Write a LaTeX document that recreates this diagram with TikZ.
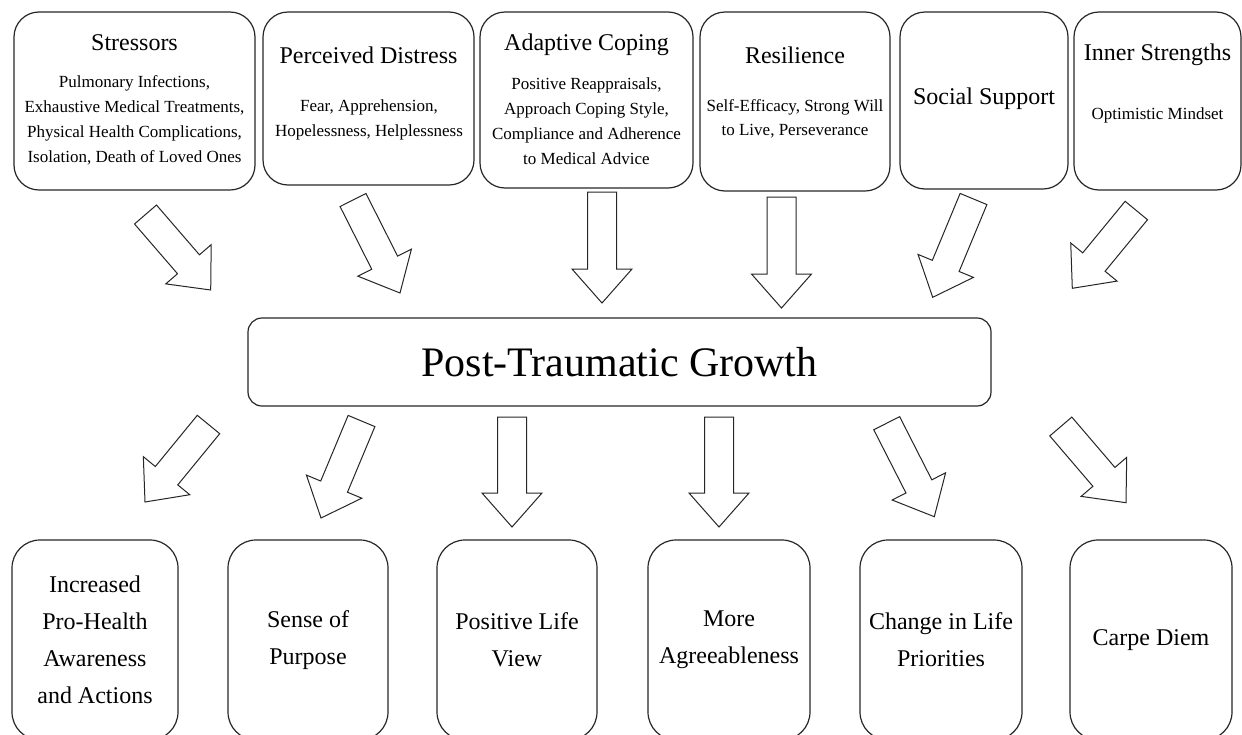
\documentclass[tikz,border=0pt]{standalone}
\usepackage{fontspec}
\setmainfont{Liberation Serif}
\usetikzlibrary{calc}
\tikzset{
  topbox/.style={draw=black!85, line width=1.2pt, rounded corners=25pt, inner sep=0pt},
  midbox/.style={draw=black!85, line width=1.2pt, rounded corners=14pt, inner sep=0pt},
  botbox/.style={draw=black!85, line width=1.2pt, rounded corners=28pt, inner sep=0pt, align=center, font=\fontsize{24}{37}\selectfont},
  ttl/.style={font=\fontsize{24}{28}\selectfont, inner sep=0pt},
  subtxt/.style={font=\fontsize{17}{25}\selectfont, align=center, inner sep=0pt},
  blkarrow/.style={draw=black!85, fill=white, line width=1pt, line join=miter},
}
\newcommand\blockarrow[2]{%
  \coordinate (#1-hb) at ($(#2)!34pt!(#1)$);
  \draw[blkarrow] ($(#1)!14.5pt!90:(#2)$) -- ($(#1-hb)!14.5pt!90:(#2)$) -- ($(#1-hb)!30pt!90:(#2)$) -- (#2)
    -- ($(#1-hb)!30pt!-90:(#2)$) -- ($(#1-hb)!14.5pt!-90:(#2)$) -- ($(#1)!14.5pt!-90:(#2)$) -- cycle;}
\begin{document}
\begin{tikzpicture}[x=1pt,y=-1pt]
\useasboundingbox (0,0) rectangle (1242,734);
\begin{scope}
\clip (0,0) rectangle (1242,734);
% top boxes
\node[topbox, minimum width=241pt, minimum height=178pt] (s1) at (134.5,101) {};
\node[topbox, minimum width=211pt, minimum height=173pt] (s2) at (368.5,98.5) {};
\node[topbox, minimum width=213pt, minimum height=176pt] (s3) at (586.5,100) {};
\node[topbox, minimum width=190pt, minimum height=179pt] (s4) at (795,101.5) {};
\node[topbox, minimum width=168pt, minimum height=177pt] (s5) at (984,100.5) {};
\node[topbox, minimum width=167pt, minimum height=178pt] (s6) at (1157.5,101) {};
% top texts
\node[ttl] (s1t) at (134.5,43) {Stressors};
\node[subtxt] (s1s) at (134.5,120) {Pulmonary Infections,\\Exhaustive Medical Treatments,\\Physical Health Complications,\\Isolation, Death of Loved Ones};
\node[ttl] (s2t) at (368.5,55) {Perceived Distress};
\node[subtxt] (s2s) at (369,120) {Fear, Apprehension,\\Hopelessness, Helplessness};
\node[ttl] (s3t) at (586.5,45) {Adaptive Coping};
\node[subtxt] (s3s) at (586.5,121) {Positive Reappraisals,\\Approach Coping Style,\\Compliance and Adherence\\to Medical Advice};
\node[ttl] (s4t) at (795,55) {Resilience};
\node[subtxt, font=\fontsize{17}{24}\selectfont] (s4s) at (795,119) {Self-Efficacy, Strong Will\\to Live, Perseverance};
\node[ttl] (s5t) at (984,99) {Social Support};
\node[ttl] (s6t) at (1157.5,55) {Inner Strengths};
\node[subtxt] (s6s) at (1157.5,115) {Optimistic Mindset};
% central box
\node[midbox, minimum width=743pt, minimum height=88pt, font=\fontsize{42}{48}\selectfont] (ptg) at (619.5,362) {Post-Traumatic Growth};
% bottom boxes
\node[botbox, minimum width=166pt, minimum height=200pt] (o1) at (95,640) {Increased\\Pro-Health\\Awareness\\and Actions};
\node[botbox, minimum width=160pt, minimum height=200pt] (o2) at (308,640) {Sense of\\Purpose};
\node[botbox, minimum width=160pt, minimum height=200pt] (o3) at (517,640) {Positive Life\\View};
\node[botbox, minimum width=162pt, minimum height=200pt] (o4) at (729,640) {More\\Agreeableness};
\node[botbox, minimum width=162pt, minimum height=200pt] (o5) at (941,640) {Change in Life\\Priorities};
\node[botbox, minimum width=162pt, minimum height=200pt] (o6) at (1151,640) {Carpe Diem};
% arrow coordinates
\coordinate (a1t) at (145.5,214.5); \coordinate (a1h) at (210.7,290);
\coordinate (a2t) at (353,200);     \coordinate (a2h) at (400,293);
\coordinate (a3t) at (602,192);     \coordinate (a3h) at (602,303);
\coordinate (a4t) at (781.5,197);   \coordinate (a4h) at (781.5,308);
\coordinate (a5t) at (973.5,199);   \coordinate (a5h) at (932.7,297.3);
\coordinate (a6t) at (1136.3,210.5);\coordinate (a6h) at (1072.3,288.3);
\coordinate (b1t) at (208.5,424.5); \coordinate (b1h) at (145,502);
\coordinate (b2t) at (361.5,421);   \coordinate (b2h) at (321,518);
\coordinate (b3t) at (512,417);     \coordinate (b3h) at (512,527);
\coordinate (b4t) at (719,417);     \coordinate (b4h) at (719,527);
\coordinate (b5t) at (886.7,423.2); \coordinate (b5h) at (934.3,516.7);
\coordinate (b6t) at (1060.8,426.5);\coordinate (b6h) at (1126,502.7);
\blockarrow{a1t}{a1h}
\blockarrow{a2t}{a2h}
\blockarrow{a3t}{a3h}
\blockarrow{a4t}{a4h}
\blockarrow{a5t}{a5h}
\blockarrow{a6t}{a6h}
\blockarrow{b1t}{b1h}
\blockarrow{b2t}{b2h}
\blockarrow{b3t}{b3h}
\blockarrow{b4t}{b4h}
\blockarrow{b5t}{b5h}
\blockarrow{b6t}{b6h}
\end{scope}
\end{tikzpicture}
\end{document}
